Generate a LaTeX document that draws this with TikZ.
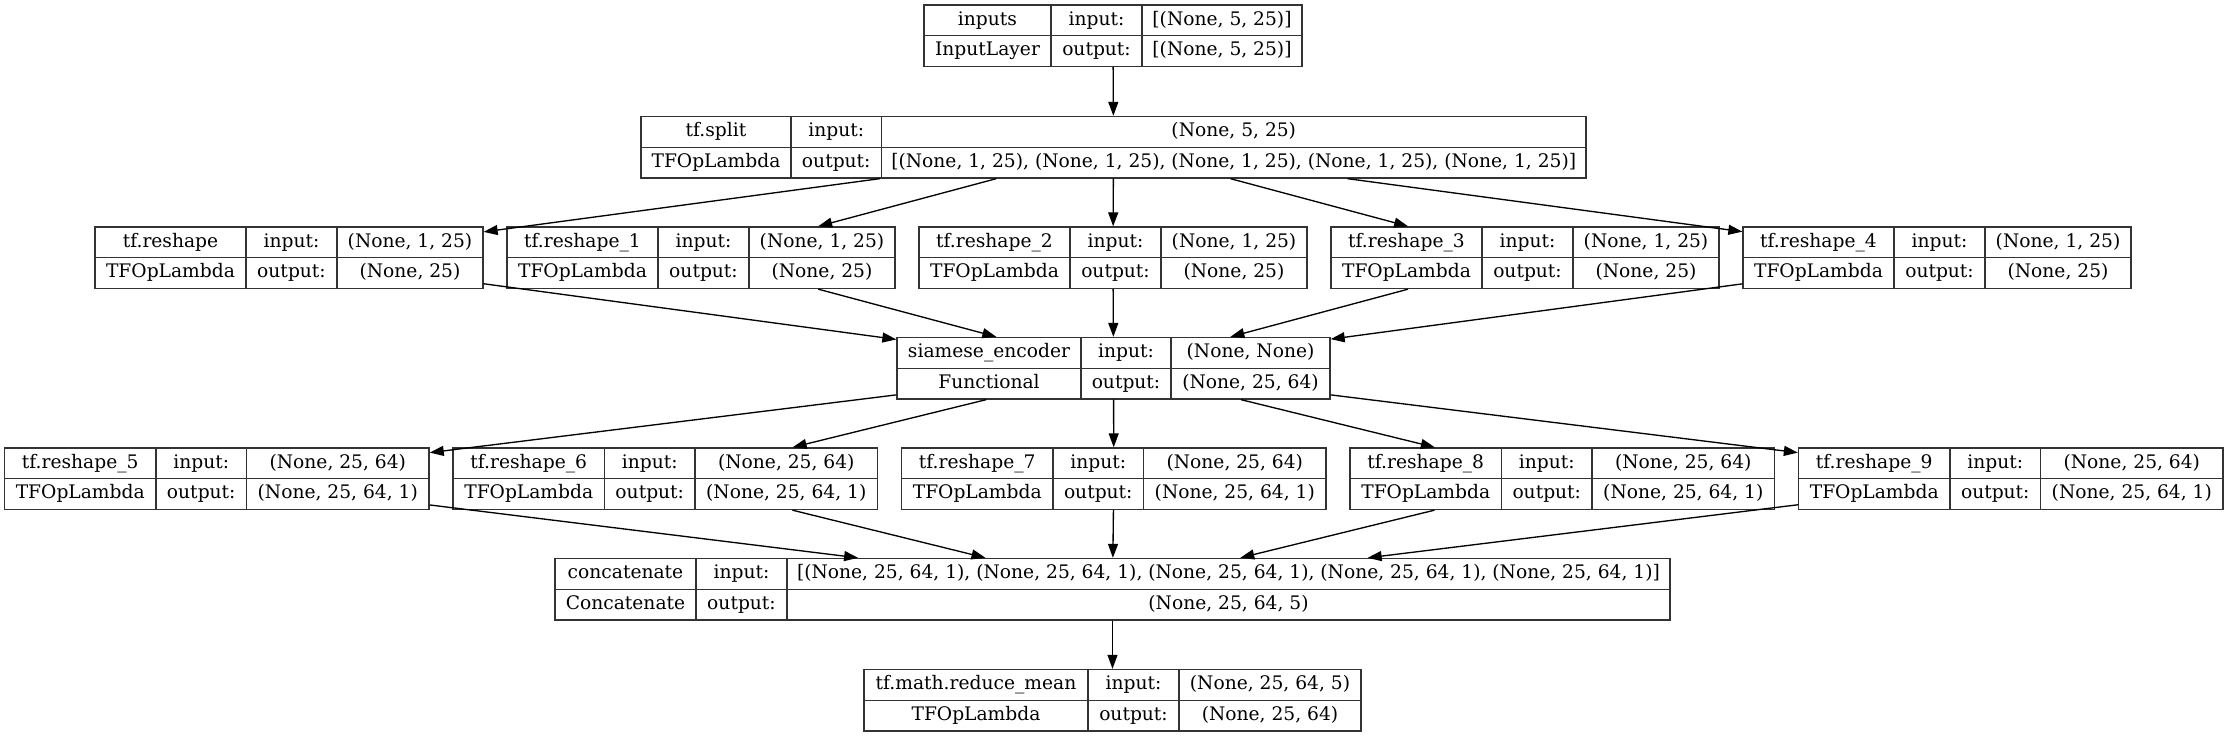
\documentclass[tikz,border=0pt]{standalone}
\usepackage{fontspec}
\setmainfont{DejaVu Serif}
\usetikzlibrary{arrows.meta,calc}
\tikzset{
  kbox/.style={draw=black!80, line width=1pt, inner sep=0pt, rectangle},
  kline/.style={draw=black!80, line width=1pt},
  ktxt/.style={inner sep=0pt, font=\fontsize{14}{16}\selectfont, text height=0.73em, text depth=0pt, anchor=center},
  arr/.style={draw=black, line width=1pt, -{Triangle[length=10.5pt,width=7.5pt]}},
}
% name, left, right, top, div1, div2
\newcommand\kbox[6]{%
  \node[kbox, minimum width={(#3-#2)*0.75pt}, minimum height=46.125pt] (#1) at ({(#2+#3)/2},{#4+30.75}) {};
  \draw[kline] (#5,#4) -- (#5,{#4+61.5}) (#6,#4) -- (#6,{#4+61.5}) (#2,{#4+30.75}) -- (#3,{#4+30.75});
  \coordinate (#1-a) at ({(#2+#5)/2},{#4+15.4});
  \coordinate (#1-b) at ({(#5+#6)/2},{#4+15.4});
  \coordinate (#1-c) at ({(#6+#3)/2},{#4+15.4});
  \coordinate (#1-d) at ({(#2+#5)/2},{#4+46.1});
  \coordinate (#1-e) at ({(#5+#6)/2},{#4+46.1});
  \coordinate (#1-f) at ({(#6+#3)/2},{#4+46.1});
}
% name, six texts
\newcommand\ktexts[7]{%
  \node[ktxt] (#1-ta) at (#1-a) {#2};
  \node[ktxt] (#1-tb) at (#1-b) {#3};
  \node[ktxt] (#1-tc) at (#1-c) {#4};
  \node[ktxt] (#1-td) at (#1-d) {#5};
  \node[ktxt] (#1-te) at (#1-e) {#6};
  \node[ktxt] (#1-tf) at (#1-f) {#7};
}
% row-1 reshape box: name, left
\newcommand\rowA[2]{\kbox{#1}{#2}{#2+388}{227}{#2+151}{#2+242}}
% row-2 reshape box: name, left
\newcommand\rowB[2]{\kbox{#1}{#2}{#2+424.6}{448}{#2+151.5}{#2+242}}
\begin{document}
\begin{tikzpicture}[x=0.75pt, y=-0.75pt]
\useasboundingbox (0,0) rectangle (2227,737);

\kbox{in1}{924}{1302}{5}{1051}{1142}
\ktexts{in1}{inputs}{input:}{[(None, 5, 25)]}{InputLayer}{output:}{[(None, 5, 25)]}

\kbox{split}{641}{1586}{116.5}{791}{881.5}
\ktexts{split}{tf.split}{input:}{(None, 5, 25)}{TFOpLambda}{output:}{[(None, 1, 25), (None, 1, 25), (None, 1, 25), (None, 1, 25), (None, 1, 25)]}

\rowA{r0}{95}
\ktexts{r0}{tf.reshape}{input:}{(None, 1, 25)}{TFOpLambda}{output:}{(None, 25)}
\rowA{r1}{507}
\ktexts{r1}{tf.reshape\_1}{input:}{(None, 1, 25)}{TFOpLambda}{output:}{(None, 25)}
\rowA{r2}{919}
\ktexts{r2}{tf.reshape\_2}{input:}{(None, 1, 25)}{TFOpLambda}{output:}{(None, 25)}
\rowA{r3}{1331}
\ktexts{r3}{tf.reshape\_3}{input:}{(None, 1, 25)}{TFOpLambda}{output:}{(None, 25)}
\rowA{r4}{1743}
\ktexts{r4}{tf.reshape\_4}{input:}{(None, 1, 25)}{TFOpLambda}{output:}{(None, 25)}

\kbox{enc}{897}{1330}{337.5}{1081}{1171}
\ktexts{enc}{siamese\_encoder}{input:}{(None, None)}{Functional}{output:}{(None, 25, 64)}

\rowB{r5}{4.5}
\ktexts{r5}{tf.reshape\_5}{input:}{(None, 25, 64)}{TFOpLambda}{output:}{(None, 25, 64, 1)}
\rowB{r6}{453}
\ktexts{r6}{tf.reshape\_6}{input:}{(None, 25, 64)}{TFOpLambda}{output:}{(None, 25, 64, 1)}
\rowB{r7}{901.5}
\ktexts{r7}{tf.reshape\_7}{input:}{(None, 25, 64)}{TFOpLambda}{output:}{(None, 25, 64, 1)}
\rowB{r8}{1350}
\ktexts{r8}{tf.reshape\_8}{input:}{(None, 25, 64)}{TFOpLambda}{output:}{(None, 25, 64, 1)}
\rowB{r9}{1798.5}
\ktexts{r9}{tf.reshape\_9}{input:}{(None, 25, 64)}{TFOpLambda}{output:}{(None, 25, 64, 1)}

\kbox{cat}{555}{1670}{558.5}{696}{787}
\ktexts{cat}{concatenate}{input:}{[(None, 25, 64, 1), (None, 25, 64, 1), (None, 25, 64, 1), (None, 25, 64, 1), (None, 25, 64, 1)]}{Concatenate}{output:}{(None, 25, 64, 5)}

\kbox{mean}{864}{1361}{669.5}{1088}{1179}
\ktexts{mean}{tf.math.reduce\_mean}{input:}{(None, 25, 64, 5)}{TFOpLambda}{output:}{(None, 25, 64)}

\draw[arr] (in1) -- (split);
\foreach \n in {r0,r1,r2,r3,r4}{
  \draw[arr] (split) -- (\n);
  \draw[arr] (\n) -- (enc);
}
\foreach \n in {r5,r6,r7,r8,r9}{
  \draw[arr] (enc) -- (\n);
  \draw[arr] (\n) -- (cat);
}
\draw[arr] (cat) -- (mean);
\end{tikzpicture}
\end{document}
